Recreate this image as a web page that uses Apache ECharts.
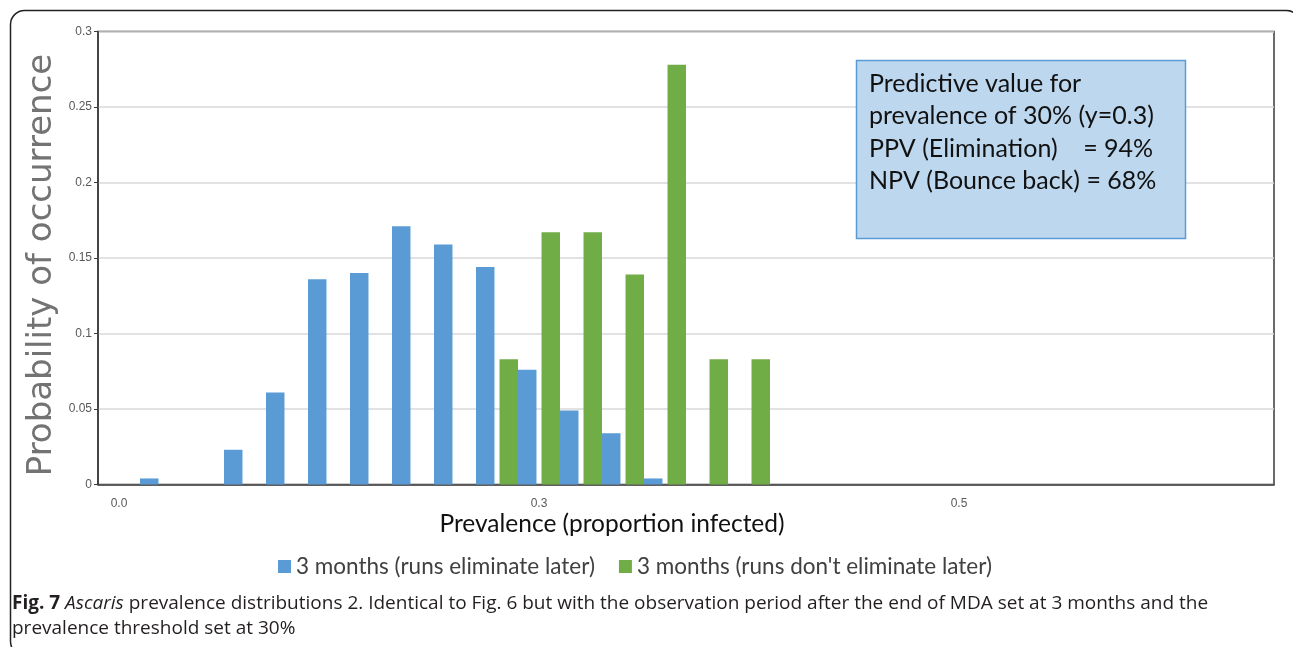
<!DOCTYPE html>
<html>
<head>
<meta charset="utf-8">
<script src="https://cdn.jsdelivr.net/npm/echarts@6/dist/echarts.min.js"></script>
<style>
  html, body { margin: 0; padding: 0; background: #ffffff; }
  #chart { width: 1293px; height: 647px; }
</style>
</head>
<body>
<div id="chart"></div>
<script>
// Prevalence bins (bin start), 0.025 wide
const binStarts = ['0.000','0.025','0.050','0.075','0.100','0.125','0.150','0.175','0.200','0.225',
                   '0.250','0.275','0.300','0.325','0.350','0.375','0.400','0.425','0.450','0.475',
                   '0.500','0.525','0.550','0.575','0.600','0.625','0.650','0.675'];
// Bin edges, where the bar clusters sit
const binEdges = ['0.000','0.025','0.050','0.075','0.100','0.125','0.150','0.175','0.200','0.225',
                  '0.250','0.275','0.300','0.325','0.350','0.375','0.400','0.425','0.450','0.475',
                  '0.500','0.525','0.550','0.575','0.600','0.625','0.650','0.675','0.700'];
// Labels shown every tenth bin
const xTickLabels = ['0.0', '0.3', '0.5'];

const seriesNames = ['3 months (runs eliminate later)', "3 months (runs don't eliminate later)"];

// Probability of occurrence per bin edge
const eliminateLater = [0, 0.004, 0, 0.023, 0.061, 0.136, 0.140, 0.171, 0.159, 0.144,
                        0.076, 0.049, 0.034, 0.004, 0, 0, 0, 0, 0, 0,
                        0, 0, 0, 0, 0, 0, 0, 0, 0];
const notEliminateLater = [0, 0, 0, 0, 0, 0, 0, 0, 0, 0,
                           0.083, 0.167, 0.167, 0.139, 0.278, 0.083, 0.083, 0, 0, 0,
                           0, 0, 0, 0, 0, 0, 0, 0, 0];

const boxLines = ['Predictive value for', 'prevalence of 30% (y=0.3)',
                  'PPV (Elimination)    = 94%', 'NPV (Bounce back) = 68%'];

const captionBold = 'Fig. 7';
const captionItalic = 'Ascaris';
const captionRest = ' prevalence distributions 2. Identical to Fig. 6 but with the observation period after the end of MDA set at 3 months and the\nprevalence threshold set at 30%';

const uiFont = 'Lato, "Open Sans", sans-serif';
const capFont = '"Open Sans", sans-serif';
const tickFont = '"Liberation Sans", sans-serif';
const axisDark = '#3a3a3a';

const chart = echarts.init(document.getElementById('chart'), null, { renderer: 'canvas' });

chart.setOption({
  animation: false,
  backgroundColor: '#ffffff',
  grid: {
    left: 98, top: 31.5, width: 1176, height: 453,
    show: true, borderColor: axisDark, borderWidth: 1.5, backgroundColor: 'transparent'
  },
  legend: {
    data: [seriesNames[0], seriesNames[1]],
    left: 273, top: 550,
    icon: 'rect', itemWidth: 13, itemHeight: 13, itemGap: 24,
    textStyle: { fontFamily: uiFont, fontSize: 22.5, color: '#404040' }
  },
  xAxis: [
    {
      type: 'category', data: binStarts, boundaryGap: true,
      axisLine: { lineStyle: { color: axisDark, width: 1.5 } },
      axisTick: { show: false },
      axisLabel: {
        interval: 9, margin: 13, color: '#595959', fontSize: 12, fontFamily: tickFont,
        formatter: (v, i) => xTickLabels[Math.round(i / 10)]
      },
      splitLine: { show: false }
    },
    { type: 'category', data: binEdges, boundaryGap: false, show: false }
  ],
  yAxis: {
    type: 'value', min: 0, max: 0.3, interval: 0.05,
    axisLine: { show: true, lineStyle: { color: axisDark, width: 1.5 } },
    axisTick: { show: true, length: 4, lineStyle: { color: axisDark } },
    axisLabel: { color: '#595959', fontSize: 12, margin: 6, fontFamily: tickFont },
    splitLine: { lineStyle: { color: '#d9d9d9', width: 1.5 } }
  },
  series: [
    {
      name: seriesNames[1], type: 'bar', xAxisIndex: 1, data: notEliminateLater,
      barGap: '0%', barCategoryGap: '12%',
      itemStyle: { color: '#70ad47' }
    },
    {
      name: seriesNames[0], type: 'bar', xAxisIndex: 1, data: eliminateLater,
      barGap: '0%', barCategoryGap: '12%',
      itemStyle: { color: '#5b9bd5' }
    }
  ],
  graphic: [
    // figure frame
    {
      type: 'rect', z: 0, silent: true,
      shape: { x: 10.5, y: 10.5, width: 1290, height: 645, r: 14 },
      style: { fill: 'none', stroke: '#222222', lineWidth: 1.5 }
    },
    // y axis title
    {
      type: 'text', x: 42, y: 265, rotation: Math.PI / 2,
      style: {
        text: 'Probability of occurrence', fontFamily: '"DejaVu Sans", sans-serif',
        fontSize: 34, fill: '#737373', align: 'center', verticalAlign: 'middle'
      }
    },
    // x axis title
    {
      type: 'text', x: 612, y: 524,
      style: {
        text: 'Prevalence (proportion infected)', fontFamily: uiFont,
        fontSize: 24.5, fill: '#111111', align: 'center', verticalAlign: 'middle'
      }
    },
    // predictive value box, above the grid lines
    {
      type: 'rect', z: 100,
      shape: { x: 856.5, y: 60.5, width: 329, height: 178 },
      style: { fill: '#bdd7ee', stroke: '#5b9bd5', lineWidth: 1.5 }
    },
    {
      type: 'text', z: 101, x: 869, y: 67.5,
      style: {
        text: boxLines.join('\n'), fontFamily: uiFont, fontSize: 25,
        lineHeight: 32.5, fill: '#111111', align: 'left', verticalAlign: 'top'
      }
    },
    // caption
    {
      type: 'text', x: 12, y: 591.5,
      style: {
        text: '{b|' + captionBold + '} {i|' + captionItalic + '}' + captionRest,
        fontFamily: capFont, fontSize: 19, lineHeight: 25, fill: '#231f20',
        align: 'left', verticalAlign: 'top',
        rich: {
          b: { fontFamily: capFont, fontSize: 19, fontWeight: 'bold', lineHeight: 25, fill: '#231f20' },
          i: { fontFamily: capFont, fontSize: 19, fontStyle: 'italic', lineHeight: 25, fill: '#231f20' }
        }
      }
    }
  ]
});
</script>
</body>
</html>
